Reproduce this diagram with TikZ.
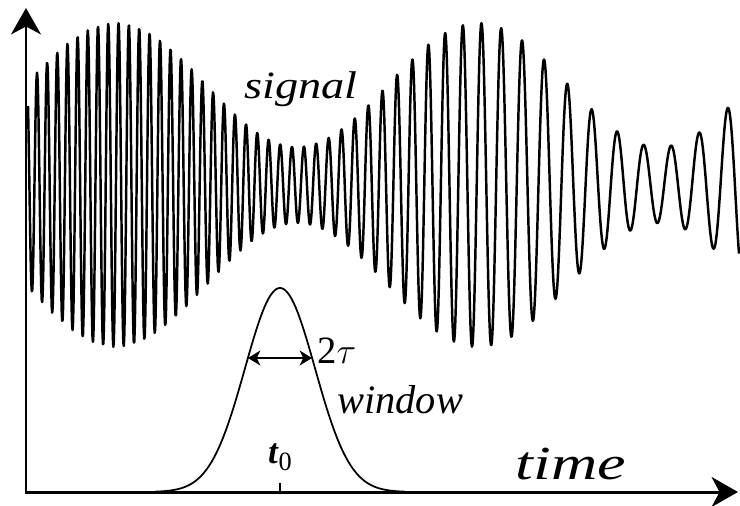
\documentclass[tikz,border=0pt]{standalone}
\usepackage{fontspec}
\setmainfont{Liberation Serif}
\usetikzlibrary{arrows.meta}

\begin{document}
\begin{tikzpicture}[x=0.02cm, y=0.02cm,
    axis/.style={line width=1.7pt, >={Stealth[length=15pt,width=17pt,inset=4.5pt]}, <->},
    wave/.style={line width=1.4pt, line join=round},
    gauss/.style={line width=1pt},
    span/.style={line width=1.1pt, >={Stealth[length=7pt,width=8.5pt,inset=2pt]}, <->},
    label/.style={inner sep=0pt, font=\itshape},
    declare function={
        uu(\s)=(\s-37)/100;
        cyc(\s)=3.3*uu(\s)+6.7*(uu(\s)-0.9*ln(1+exp((uu(\s)-3.62)/0.9))+0.9*ln(1+exp(-3.62/0.9)));
        env(\s)=100+62*cos((\s-116)*0.99448);
    }]
    \useasboundingbox (0,0) rectangle (740,505);

    % axes
    \coordinate (origin) at (26,13);
    \coordinate (ytop) at (26,497);
    \coordinate (xend) at (738,13);
    \draw[axis] (ytop) -- (origin) -- (xend);

    % chirped, beating signal
    \draw[wave] plot[domain=28:739, samples=1500]
        (\x, {320+env(\x)*cos(360*mod(cyc(\x),1))});

    % gaussian window round t0
    \coordinate (tzero) at (280,13);
    \draw[gauss] plot[domain=155:405, samples=120]
        (\x, {13+204*exp(-0.5*((\x-280)/35)^2)});
    \draw[line width=1.1pt] (tzero) -- ++(0,9);
    \coordinate (wl) at (248,147);
    \coordinate (wr) at (312,147);
    \draw[span] (wl) -- (wr);

    \node[label, anchor=base] (sig) at (301,407)
        {\scalebox{1.2}[1]{\fontsize{22}{22}\selectfont signal}};
    \node[label, anchor=base west] (win) at (337,92)
        {\fontsize{23}{23}\selectfont window};
    \node[inner sep=0pt, anchor=base west] (tau) at (317,142)
        {\fontsize{22}{22}\selectfont 2$\tau$};
    \node[inner sep=0pt, anchor=base] (tlab) at (280,42)
        {\fontsize{20}{20}\selectfont \textbf{\textit{t}}\raisebox{-4pt}{\fontsize{15}{15}\selectfont 0}};
    \node[label, anchor=base] (time) at (571,26)
        {\scalebox{1.35}[1]{\fontsize{27}{27}\selectfont time}};
\end{tikzpicture}
\end{document}
